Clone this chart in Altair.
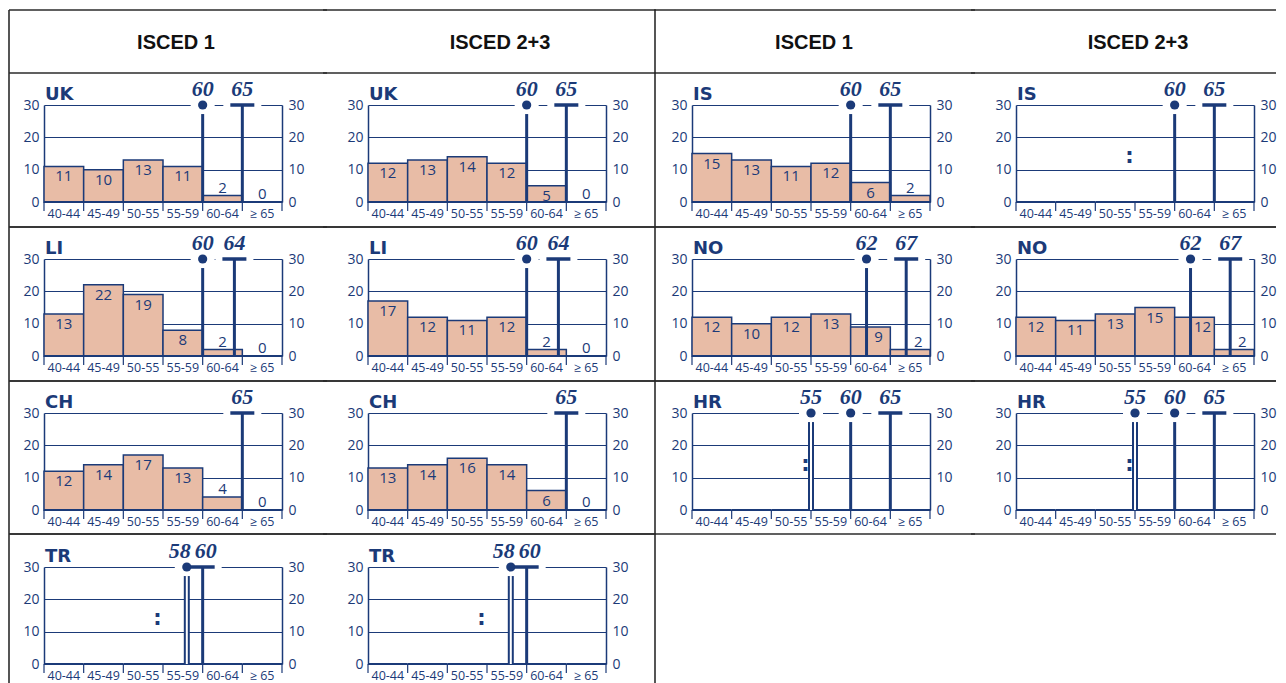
import altair as alt
import pandas as pd

# ---------------- data ----------------
age_groups = ["40-44", "45-49", "50-55", "55-59", "60-64", "≥ 65"]
age_edges = [40, 45, 50, 55, 60, 65, 70]
levels = ["ISCED 1", "ISCED 2+3"]

left_countries = ["UK", "LI", "CH", "TR"]
right_countries = ["IS", "NO", "HR"]

# share of teachers (%) by age group; None = not available (":")
uk_isced1 = [11, 10, 13, 11, 2, 0]
uk_isced23 = [12, 13, 14, 12, 5, 0]
is_isced1 = [15, 13, 11, 12, 6, 2]
is_isced23 = None
li_isced1 = [13, 22, 19, 8, 2, 0]
li_isced23 = [17, 12, 11, 12, 2, 0]
no_isced1 = [12, 10, 12, 13, 9, 2]
no_isced23 = [12, 11, 13, 15, 12, 2]
ch_isced1 = [12, 14, 17, 13, 4, 0]
ch_isced23 = [13, 14, 16, 14, 6, 0]
hr_isced1 = None
hr_isced23 = None
tr_isced1 = None
tr_isced23 = None

# retirement ages: dot = minimum age, double = minimum age (double line), cap = standard age
dot_ages = {"UK": [60], "IS": [60], "LI": [60], "NO": [62], "CH": [], "HR": [60], "TR": []}
double_ages = {"UK": [], "IS": [], "LI": [], "NO": [], "CH": [], "HR": [55], "TR": [58]}
cap_ages = {"UK": [65], "IS": [65], "LI": [64], "NO": [67], "CH": [65], "HR": [65], "TR": [60]}

shares = {
    ("UK", 0): uk_isced1, ("UK", 1): uk_isced23,
    ("IS", 0): is_isced1, ("IS", 1): is_isced23,
    ("LI", 0): li_isced1, ("LI", 1): li_isced23,
    ("NO", 0): no_isced1, ("NO", 1): no_isced23,
    ("CH", 0): ch_isced1, ("CH", 1): ch_isced23,
    ("HR", 0): hr_isced1, ("HR", 1): hr_isced23,
    ("TR", 0): tr_isced1, ("TR", 1): tr_isced23,
}

# ---------------- style ----------------
NAVY = "#1b3a78"
FILL = "#e8bca6"
LINE = "#2b2b2b"
W, H = 238, 97
ROW_PITCH = 154
ROW_TOPS = [-32, -32, -32, -33]
MISSING_AGE = 54.3
MISSING_Y = 14

xs = alt.Scale(domain=[40, 70], nice=False, zero=False)
ys = alt.Scale(domain=[0, 30], nice=False)

y_left = alt.Axis(orient="left", values=[0, 10, 20, 30], title=None, ticks=False, grid=True,
                  gridColor=NAVY, gridWidth=1, domainColor=NAVY, domainWidth=1.5,
                  labelFont="Open Sans", labelFontSize=14, labelColor=NAVY, labelPadding=5)
y_right = alt.Axis(orient="right", values=[0, 10, 20, 30], title=None, ticks=False, grid=False,
                   domainColor=NAVY, domainWidth=1.5, labelFont="Open Sans", labelFontSize=14,
                   labelColor=NAVY, labelPadding=6)

one = pd.DataFrame({"k": [0]})
groups_df = pd.DataFrame({"group": age_groups, "lo": age_edges[:-1], "hi": age_edges[1:]})
edges_df = pd.DataFrame({"edge": age_edges})


def hline(y, xa, xb):
    return alt.Chart(one).mark_rule(color=LINE, strokeWidth=1.6).encode(
        x=alt.value(xa), x2=alt.value(xb), y=alt.value(y))


def vline(x, ya, yb):
    return alt.Chart(one).mark_rule(color=LINE, strokeWidth=1.6).encode(
        x=alt.value(x), y=alt.value(ya), y2=alt.value(yb))


def panel(country, lev, row, col):
    values = shares[(country, lev)]
    layers = []

    # table decorations
    x_ext = {0: (-35, W + 45), 1: (-45, W + 50), 2: (-38, W + 45), 3: (-45, W + 22)}[col]
    top_y = -95 if row == 0 else ROW_TOPS[row]
    bot_y = ROW_PITCH + ROW_TOPS[row + 1] if row < 3 else H + 45
    layers.append(hline(ROW_TOPS[row], *x_ext))
    if row == 0:
        layers.append(hline(-95, *x_ext))
        hx = 132 if col < 2 else 122
        layers.append(alt.Chart(one).mark_text(text=levels[lev], font="Liberation Sans",
                                               fontWeight="bold", fontSize=20, color="#111111",
                                               baseline="middle", align="center").encode(
            x=alt.value(hx), y=alt.value(-62)))
    if row < 3:
        layers.append(hline(bot_y, *x_ext))
    if col == 0:
        layers.append(vline(-35, top_y, bot_y))
    if col == 1:
        layers.append(vline(W + 49, top_y, bot_y))

    ages_all = dot_ages[country] + double_ages[country] + cap_ages[country]

    # bars
    if values is not None:
        bdf = groups_df.copy()
        bdf["share"] = values
        bdf["base"] = 0
        mids = [(a + b) / 2 for a, b in zip(age_edges[:-1], age_edges[1:])]
        bdf["shift"] = [any(abs(a - m) < 1.0 for a in ages_all) for m in mids]
        base = alt.Chart(bdf).transform_calculate(mid="(datum.lo + datum.hi) / 2")
        layers.append(base.mark_rect(fill=FILL, stroke=NAVY, strokeWidth=1.5).encode(
            x=alt.X("lo:Q", scale=xs, axis=None), x2="hi:Q",
            y=alt.Y("share:Q", scale=ys, axis=None), y2="base:Q"))
        txt = dict(font="Open Sans", fontSize=15, color=NAVY, baseline="middle", align="center")
        for cond, dy in [("datum.share >= 5", 10), ("datum.share < 5", -8)]:
            for sh, dx in [("!datum.shift", 0), ("datum.shift", 8)]:
                layers.append(base.transform_filter(cond).transform_filter(sh).mark_text(
                    dy=dy, dx=dx, **txt).encode(
                    x=alt.X("mid:Q", scale=xs, axis=None),
                    y=alt.Y("share:Q", scale=ys, axis=None), text="share:Q"))
    else:
        mdf = pd.DataFrame({"age": [MISSING_AGE], "share": [MISSING_Y], "sym": [":"]})
        layers.append(alt.Chart(mdf).mark_text(font="DejaVu Sans", fontWeight="bold", fontSize=21,
                                              color=NAVY, baseline="middle").encode(
            x=alt.X("age:Q", scale=xs, axis=None), y=alt.Y("share:Q", scale=ys, axis=None),
            text="sym:N"))

    # x axis: baseline, ticks at the age-group boundaries, age-group labels
    layers.append(alt.Chart(groups_df).mark_rule(color=NAVY, strokeWidth=2).encode(
        x=alt.X("lo:Q", scale=xs, axis=None), x2="hi:Q", y=alt.value(H)))
    layers.append(alt.Chart(edges_df).mark_rule(color=NAVY, strokeWidth=1.2).encode(
        x=alt.X("edge:Q", scale=xs, axis=None), y=alt.value(H), y2=alt.value(H + 9)))
    layers.append(alt.Chart(groups_df).transform_calculate(
        mid="(datum.lo + datum.hi) / 2").mark_text(
        font="Open Sans", fontSize=12.5, color=NAVY, baseline="middle", align="center").encode(
        x=alt.X("mid:Q", scale=xs, axis=None), y=alt.value(H + 12), text="group:N"))

    # retirement age markers
    rows = ([{"age": a, "kind": "dot"} for a in dot_ages[country]]
            + [{"age": a, "kind": "ddot"} for a in double_ages[country]]
            + [{"age": a, "kind": "cap"} for a in cap_ages[country]])
    mk = pd.DataFrame(rows).sort_values("age").reset_index(drop=True)
    mk["label"] = mk["age"].astype(str)
    ages_sorted = list(mk["age"])
    crowd = []
    for i, a in enumerate(ages_sorted):
        nxt = ages_sorted[i + 1] if i + 1 < len(ages_sorted) else None
        prv = ages_sorted[i - 1] if i > 0 else None
        if nxt is not None and nxt - a < 3:
            crowd.append("left")
        elif prv is not None and a - prv < 3:
            crowd.append("right")
        else:
            crowd.append("none")
    mk["crowd"] = crowd
    mbase = alt.Chart(mk).transform_calculate(
        y0="0", ytop="30", yline="datum.kind == 'cap' ? 30 : 27.2")
    X = alt.X("age:Q", scale=xs, axis=None)
    Ytop = alt.Y("ytop:Q", scale=ys, axis=None)

    # white gaps in the top line
    layers.append(mbase.transform_filter("datum.kind != 'cap'").mark_tick(
        orient="horizontal", size=24, thickness=4, color="white", opacity=1).encode(x=X, y=Ytop))
    layers.append(mbase.transform_filter("datum.kind == 'cap'").mark_tick(
        orient="horizontal", size=38, thickness=4, color="white", opacity=1).encode(x=X, y=Ytop))

    # single vertical lines (carry the left y axis)
    layers.append(mbase.transform_filter("datum.kind != 'ddot'").mark_rule(
        color=NAVY, strokeWidth=3).encode(
        x=X, y=alt.Y("y0:Q", scale=ys, axis=y_left), y2="yline:Q"))
    # double lines
    layers.append(mbase.transform_filter("datum.kind == 'ddot'").mark_rule(
        color=NAVY, strokeWidth=6).encode(
        x=X, y=alt.Y("y0:Q", scale=ys, axis=None), y2="yline:Q"))
    layers.append(mbase.transform_filter("datum.kind == 'ddot'").mark_rule(
        color="white", strokeWidth=2).encode(
        x=X, y=alt.Y("y0:Q", scale=ys, axis=None), y2="yline:Q"))
    # dots
    layers.append(mbase.transform_filter("datum.kind != 'cap'").mark_circle(
        size=85, color=NAVY, opacity=1).encode(x=X, y=Ytop))
    # caps (carry the right y axis)
    layers.append(mbase.transform_filter("datum.kind == 'cap'").mark_tick(
        orient="horizontal", size=24, thickness=3.5, color=NAVY, opacity=1).encode(
        x=X, y=alt.Y("ytop:Q", scale=ys, axis=y_right)))
    # age labels
    lab = dict(font="Liberation Serif", fontStyle="italic", fontWeight="bold", fontSize=22,
               color=NAVY, dy=-9, baseline="alphabetic", align="center")
    for c, dx in [("none", 0), ("left", -7), ("right", 3)]:
        layers.append(mbase.transform_filter(f"datum.crowd == '{c}'").mark_text(
            dx=dx, **lab).encode(x=X, y=Ytop, text="label:N"))

    # country code
    cdf = pd.DataFrame({"country": [country]})
    layers.append(alt.Chart(cdf).mark_text(font="DejaVu Sans", fontWeight="bold", fontSize=18,
                                           color=NAVY, align="left",
                                           baseline="alphabetic").encode(
        x=alt.value(1), y=alt.value(-5), text="country:N"))

    return alt.layer(*layers).resolve_axis(y="independent").properties(width=W, height=H)


panels = []
for r in range(4):
    for half, countries in enumerate([left_countries, right_countries]):
        if r < len(countries):
            for lev in range(2):
                panels.append(panel(countries[r], lev, r, half * 2 + lev))

chart = alt.concat(*panels, columns=4, spacing={"row": ROW_PITCH - H, "column": 86},
                   bounds="flush").properties(
    padding={"left": 0, "top": 1, "right": 0, "bottom": 0}
).configure_view(stroke=None)

chart.save("out.html", embed_options={"renderer": "svg", "actions": False})
